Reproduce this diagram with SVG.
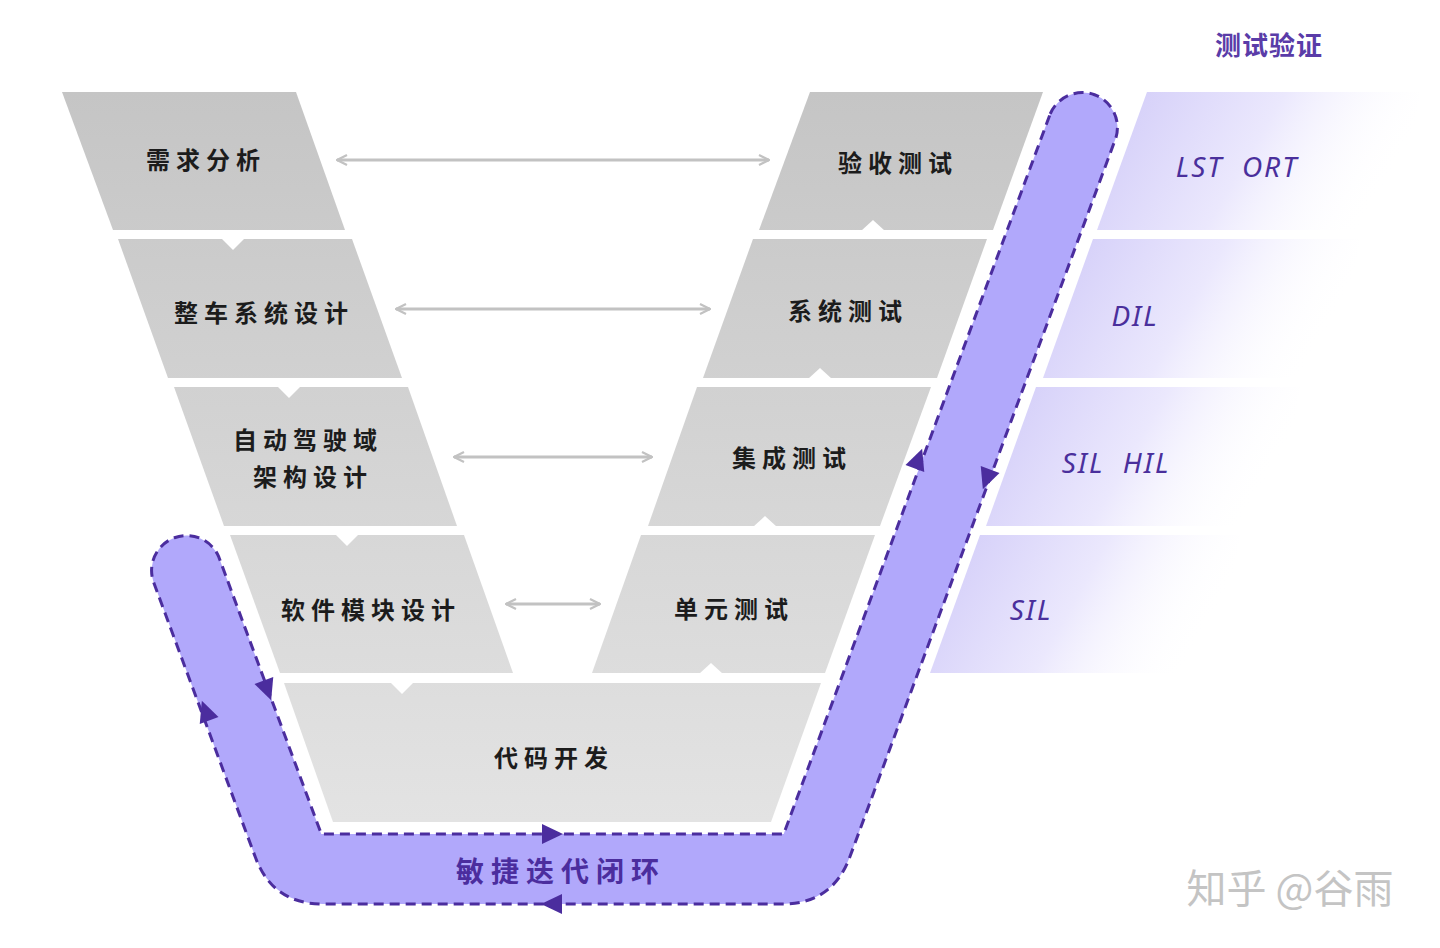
<svg xmlns="http://www.w3.org/2000/svg" width="1440" height="948" viewBox="0 0 1440 948">
<defs>
<linearGradient id="gray" gradientUnits="userSpaceOnUse" x1="0" y1="92" x2="0" y2="822">
<stop offset="0" stop-color="#c5c5c5"/><stop offset="1" stop-color="#e3e3e3"/>
</linearGradient>
<linearGradient id="lav" x1="0" y1="0" x2="1" y2="0.25">
<stop offset="0" stop-color="#d0caf8"/><stop offset="0.55" stop-color="#ebe8fd"/><stop offset="1" stop-color="#ffffff" stop-opacity="0"/>
</linearGradient>
<marker id="ah" viewBox="0 0 12 12" refX="11" refY="6" markerWidth="12" markerHeight="12" markerUnits="userSpaceOnUse" orient="auto-start-reverse">
<path d="M1,1 L11,6 L1,11" fill="none" stroke="#c2c2c2" stroke-width="2.2"/>
</marker>
<path id="tri" d="M0,-12 L10,9 L-10,9 Z" fill="#4b2d9e"/>
<path id="nd" d="M-12,-1 L0,11 L12,-1 Z" fill="#ffffff"/>
<path id="nu" d="M-12,1 L0,-10 L12,1 Z" fill="#ffffff"/>
</defs>
<style>
.blk{fill:url(#gray)}
.lbl{font-family:"Noto Sans CJK SC",sans-serif;font-size:24px;font-weight:600;fill:#1c1c1c;letter-spacing:6px;text-anchor:middle}
.lav{fill:url(#lav)}
.it{font-family:"Noto Sans","Open Sans",sans-serif;font-style:italic;font-size:28px;fill:#4a2f9c;letter-spacing:2px;text-anchor:middle}
.conn{stroke:#c2c2c2;stroke-width:3;fill:none}
</style>
<rect width="1440" height="948" fill="#ffffff"/>

<g id="title"><text x="1269" y="55" font-family="Noto Sans CJK SC,sans-serif" font-size="26" font-weight="600" fill="#5a3ca8" text-anchor="middle" letter-spacing="1">测试验证</text></g>

<g id="n-req">
<polygon class="blk" points="62,92 296,92 345,230 113,230"/>
<text class="lbl" x="206" y="169">需求分析</text>
</g>
<g id="n-veh">
<polygon class="blk" points="118,239 352,239 402,378 168,378"/>
<use href="#nd" x="233" y="239"/>
<text class="lbl" x="264" y="322">整车系统设计</text>
</g>
<g id="n-arch">
<polygon class="blk" points="174,387 408,387 457,526 224,526"/>
<use href="#nd" x="289" y="387"/>
<text class="lbl" x="308" y="449">自动驾驶域</text>
<text class="lbl" x="313" y="486">架构设计</text>
</g>
<g id="n-sw">
<polygon class="blk" points="230,535 464,535 513,673 280,673"/>
<use href="#nd" x="347" y="535"/>
<text class="lbl" x="371" y="619">软件模块设计</text>
</g>
<g id="n-code">
<polygon class="blk" points="284,683 821,683 771,822 333,822"/>
<use href="#nd" x="402" y="683"/>
<text class="lbl" x="554" y="767">代码开发</text>
</g>
<g id="n-acc">
<polygon class="blk" points="810,92 1043,92 993,230 759,230"/>
<use href="#nu" x="873" y="230"/>
<text class="lbl" x="898" y="172">验收测试</text>
</g>
<g id="n-sys">
<polygon class="blk" points="753,239 987,239 937,378 703,378"/>
<use href="#nu" x="820" y="378"/>
<text class="lbl" x="848" y="320">系统测试</text>
</g>
<g id="n-int">
<polygon class="blk" points="697,387 931,387 880,526 648,526"/>
<use href="#nu" x="765" y="526"/>
<text class="lbl" x="792" y="467">集成测试</text>
</g>
<g id="n-unit">
<polygon class="blk" points="641,535 875,535 825,673 592,673"/>
<use href="#nu" x="711" y="673"/>
<text class="lbl" x="734" y="618">单元测试</text>
</g>

<g id="v-lst">
<polygon class="lav" points="1147,92 1420,92 1400,230 1097,230"/>
<text class="it" x="1237" y="177" xml:space="preserve">LST  ORT</text>
</g>
<g id="v-dil">
<polygon class="lav" points="1093,239 1360,239 1340,378 1043,378"/>
<text class="it" x="1135" y="326">DIL</text>
</g>
<g id="v-hil">
<polygon class="lav" points="1036,387 1300,387 1280,526 986,526"/>
<text class="it" x="1116" y="473" xml:space="preserve">SIL  HIL</text>
</g>
<g id="v-sil">
<polygon class="lav" points="980,535 1240,535 1220,673 930,673"/>
<text class="it" x="1031" y="620">SIL</text>
</g>

<g id="connectors">
<line class="conn" x1="337" y1="160" x2="769" y2="160" marker-start="url(#ah)" marker-end="url(#ah)"/>
<line class="conn" x1="396" y1="309" x2="710" y2="309" marker-start="url(#ah)" marker-end="url(#ah)"/>
<line class="conn" x1="454" y1="457" x2="652" y2="457" marker-start="url(#ah)" marker-end="url(#ah)"/>
<line class="conn" x1="506" y1="604" x2="600" y2="604" marker-start="url(#ah)" marker-end="url(#ah)"/>
</g>

<g id="loop">
<path d="M1050.2,113.9 A35,35 0 0 1 1115.8,138.1 L849.8,857.1 Q832.4,904 782.4,904 L322.6,904 Q272.6,904 255.3,857.1 L153.2,581.1 A35,35 0 0 1 218.8,556.9 L321.3,834 L783.7,834 Z" fill="#b1a8fb" stroke="#4b2d9e" stroke-width="3" stroke-dasharray="10 6" stroke-linejoin="round"/>
<use href="#tri" transform="translate(918,460) rotate(20.3)"/>
<use href="#tri" transform="translate(987,478) rotate(200.3)"/>
<use href="#tri" transform="translate(551,834) rotate(90)"/>
<use href="#tri" transform="translate(553,904) rotate(-90)"/>
<use href="#tri" transform="translate(267,689) rotate(159.7)"/>
<use href="#tri" transform="translate(206,712) rotate(-20.3)"/>
<text x="561" y="882" font-family="Noto Sans CJK SC,sans-serif" font-size="28" font-weight="700" fill="#4b2d9e" text-anchor="middle" letter-spacing="7">敏捷迭代闭环</text>
</g>

<g id="watermark"><text x="1290" y="903" font-family="Noto Sans CJK SC,sans-serif" font-size="40" fill="#c4c4c4" text-anchor="middle">知乎 @谷雨</text></g>
</svg>
